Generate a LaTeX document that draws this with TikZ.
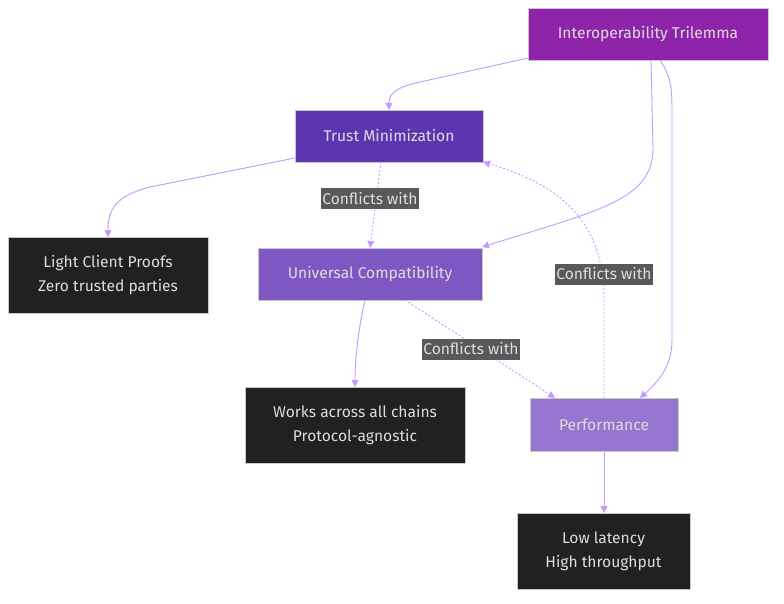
\documentclass[tikz,border=0pt]{standalone}
\usepackage{fontspec}
\setmainfont{Fira Sans}
\usetikzlibrary{arrows.meta}
\definecolor{edgec}{HTML}{C39BFF}
\definecolor{txt}{HTML}{DDDDDD}
\definecolor{bordc}{HTML}{C8C8C8}
\definecolor{cTop}{HTML}{8E24AA}
\definecolor{cTrust}{HTML}{5E35B1}
\definecolor{cUni}{HTML}{7E57C2}
\definecolor{cPerf}{HTML}{9575CD}
\definecolor{cDark}{HTML}{212121}
\definecolor{lblbg}{HTML}{595959}
\tikzset{
  box/.style={draw=bordc, line width=0.8pt, text=txt, font=\fontsize{15.6}{24}\selectfont, align=center, inner sep=0pt},
  edge/.style={draw=edgec, line width=0.9pt, -{Triangle[length=7pt,width=7pt]}},
  dashedge/.style={edge, dash pattern=on 2pt off 2pt},
  lbl/.style={fill=lblbg, text=txt, font=\fontsize{15.6}{18}\selectfont, inner sep=1pt, minimum height=21pt}
}
\begin{document}
\begin{tikzpicture}[x=1pt,y=-1pt]
\useasboundingbox[fill=white] (0,0) rectangle (784,604);
\node[box, fill=cTop, minimum width=240pt, minimum height=52pt] (top) at (648,34) {Interoperability Trilemma};
\node[box, fill=cTrust, minimum width=188pt, minimum height=52pt] (trust) at (389,136) {Trust Minimization};
\node[box, fill=cDark, minimum width=200pt, minimum height=76pt] (light) at (108,275) {Light Client Proofs\\Zero trusted parties};
\node[box, fill=cUni, minimum width=224pt, minimum height=52pt] (uni) at (370,274) {Universal Compatibility};
\node[box, fill=cDark, minimum width=220pt, minimum height=76pt] (works) at (355,425) {Works across all chains\\Protocol-agnostic};
\node[box, fill=cPerf, minimum width=148pt, minimum height=53pt] (perf) at (604,424.5) {Performance};
\node[box, fill=cDark, minimum width=173pt, minimum height=76pt] (low) at (603.5,551) {Low latency\\High throughput};

% coordinates for edge ends
\coordinate (t1) at (528,58);
\coordinate (t2) at (651,60);
\coordinate (t3) at (660,60);
\coordinate (tr1) at (389,110);
\coordinate (tr2) at (295,158);
\coordinate (tr3) at (381,162);
\coordinate (tr4) at (483,162);
\coordinate (lc1) at (108,237);
\coordinate (u1) at (370,248);
\coordinate (u2) at (482,247);
\coordinate (u3) at (365,300);
\coordinate (u4) at (405,300);
\coordinate (w1) at (355,387);
\coordinate (p1) at (640,398);
\coordinate (p2) at (555,398);
\coordinate (p3) at (604,398);
\coordinate (p4) at (604,451);
\coordinate (l1) at (604,513);

\draw[edge] (t1) -- (420,82) .. controls (392,88) and (389,96) .. (tr1);
\draw[edge] (t2) -- (653,148) .. controls (653,200) and (600,210) .. (u2);
\draw[edge] (t3) .. controls (670,75) and (672,85) .. (672,110) -- (672,340) .. controls (672,365) and (660,380) .. (p1);
\draw[edge] (tr2) -- (150,187) .. controls (115,196) and (108,210) .. (lc1);
\draw[dashedge] (tr3) -- (u1);
\draw[dashedge] (p3) -- (604,300) .. controls (604,220) and (560,185) .. (tr4);
\draw[edge] (u3) .. controls (358,330) and (355,360) .. (w1);
\draw[dashedge] (u4) -- (p2);
\draw[edge] (p4) -- (l1);

\node[lbl] (lb1) at (370,199) {Conflicts with};
\node[lbl] (lb2) at (604,274) {Conflicts with};
\node[lbl] (lb3) at (471,349) {Conflicts with};
\end{tikzpicture}
\end{document}
